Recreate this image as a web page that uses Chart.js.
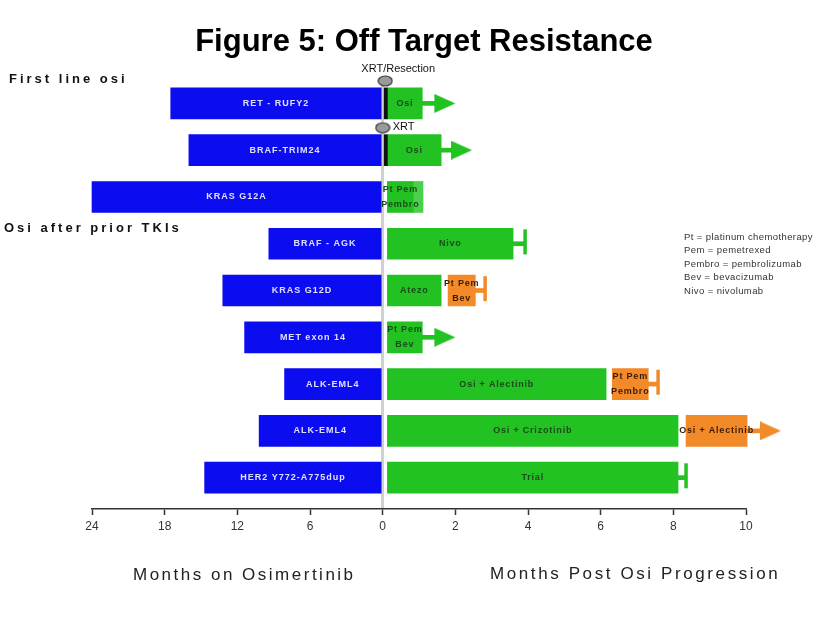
<!DOCTYPE html>
<html>
<head>
<meta charset="utf-8">
<script src="https://cdn.jsdelivr.net/npm/chart.js@4.4.1/dist/chart.umd.min.js"></script>
<style>
	html, body { margin: 0; padding: 0; background: #fff; }
</style>
</head>
<body>
<canvas id="swimmerChart" width="824" height="618"></canvas>
<script>
// Rows, top to bottom
const rowLabels = ['RET - RUFY2', 'BRAF-TRIM24', 'KRAS G12A', 'BRAF - AGK', 'KRAS G12D', 'MET exon 14', 'ALK-EML4', 'ALK-EML4', 'HER2 Y772-A775dup'];
// Months on osimertinib (left half)
const osiMonths = [17.5, 16, 24, 9.4, 13.2, 11.4, 8.1, 10.2, 14.7];
// Months post osi progression (right half)
const firstTxEnd = [1.09, 1.61, 0.84, 3.59, 1.61, 1.09, 6.15, 8.13, 8.13];
const firstTxLabels = ['Osi', 'Osi', 'Pt Pem\nPembro', 'Nivo', 'Atezo', 'Pt Pem\nBev', 'Osi + Alectinib', 'Osi + Crizotinib', 'Trial'];
const secondTxStart = [null, null, 0.84, null, 1.8, null, 6.32, 8.35, null];
const secondTxEnd = [null, null, 1.11, null, 2.55, null, 7.31, 10.03, null];
const secondTxLabels = ['', '', '', '', 'Pt Pem\nBev', '', 'Pt Pem\nPembro', 'Osi + Alectinib', ''];
const ongoingAt = [2.0, 2.46, null, null, null, 2.0, null, 10.96, null];
const stoppedAt = [null, null, null, 3.92, 2.82, null, 7.58, null, 8.35];
const xrtRows = [0, 1];
const xrtLabels = ['XRT/Resection', 'XRT'];
const leftTicks = [24, 18, 12, 6];
const rightTicks = [0, 2, 4, 6, 8, 10];
const notes = ['Pt = platinum chemotherapy', 'Pem = pemetrexed', 'Pembro = pembrolizumab', 'Bev = bevacizumab', 'Nivo = nivolumab'];

// left half is drawn at 3 months per axis unit
const LEFT_RATIO = 3;
const GAP = 0.13;

const BLUE = '#0c0cf0';
const GREEN = '#22c222';
const LIGHT_GREEN = '#4ccf4c';
const ORANGE = '#f28a2a';
const FONT = '"Liberation Sans", Arial, sans-serif';
const secondColors = ['', '', LIGHT_GREEN, '', ORANGE, '', ORANGE, ORANGE, ''];

function lastColor(i) {
	return secondTxEnd[i] != null ? secondColors[i] : GREEN;
}

function arrowHead(color) {
	// tip sits at the centre of the canvas
	const c = document.createElement('canvas');
	c.width = 44;
	c.height = 19;
	const g = c.getContext('2d');
	g.fillStyle = color;
	g.beginPath();
	g.moveTo(1, 0);
	g.lineTo(22, 9.5);
	g.lineTo(1, 19);
	g.closePath();
	g.fill();
	return c;
}

function pin() {
	const c = document.createElement('canvas');
	c.width = 16;
	c.height = 12;
	const g = c.getContext('2d');
	g.fillStyle = '#9a9a9a';
	g.strokeStyle = '#333';
	g.lineWidth = 1.2;
	g.beginPath();
	g.ellipse(8, 6, 7, 5, 0, 0, Math.PI * 2);
	g.fill();
	g.stroke();
	return c;
}

const rowIdx = rowLabels.map((l, i) => i);
const osiData = rowIdx.map(i => ({y: i, x: [-osiMonths[i] / LEFT_RATIO, 0]}));
const firstData = rowIdx.map(i => ({y: i, x: [GAP, firstTxEnd[i]]}));
const secondRows = rowIdx.filter(i => secondTxStart[i] != null);
const secondData = secondRows.map(i => ({y: i, x: [secondTxStart[i], secondTxEnd[i]]}));
const xrtData = xrtRows.map(i => ({y: i, x: [0, GAP]}));
const shaftRows = rowIdx.filter(i => ongoingAt[i] != null || stoppedAt[i] != null);
const shaftData = shaftRows.map(i => {
	const from = secondTxEnd[i] != null ? secondTxEnd[i] : firstTxEnd[i];
	const to = ongoingAt[i] != null ? ongoingAt[i] - 0.3 : stoppedAt[i];
	return {y: i, x: [from, to]};
});
const arrowRows = rowIdx.filter(i => ongoingAt[i] != null);
const capRows = rowIdx.filter(i => stoppedAt[i] != null);

const textPlugin = {
	id: 'texts',
	afterDraw(chart) {
		const ctx = chart.ctx;
		const put = (s, x, y, font, color, align, spacing) => {
			ctx.save();
			ctx.font = font;
			ctx.fillStyle = color;
			ctx.textAlign = align || 'center';
			ctx.textBaseline = 'middle';
			ctx.letterSpacing = (spacing || 0) + 'px';
			ctx.fillText(s, x, y);
			ctx.restore();
		};
		const barLabels = (dsIndex, labels, rows, font, color, spacing) => {
			chart.getDatasetMeta(dsIndex).data.forEach((bar, k) => {
				const s = labels[rows[k]];
				if (!s) return;
				const lines = s.split('\n');
				const cx = (bar.x + bar.base) / 2;
				lines.forEach((line, j) => {
					put(line, cx, bar.y + (j - (lines.length - 1) / 2) * 15, font, color, 'center', spacing);
				});
			});
		};
		put('Figure 5: Off Target Resistance', 424, 42, 'bold 31px ' + FONT, '#000');
		put('First line osi', 9, 79, 'bold 13px ' + FONT, '#111', 'left', 3);
		put('Osi after prior TKIs', 4, 228, 'bold 13px ' + FONT, '#111', 'left', 3);

		barLabels(0, rowLabels, rowIdx, 'bold 9px ' + FONT, '#dfe0ff', 1);
		barLabels(2, firstTxLabels, rowIdx, 'bold 9px ' + FONT, '#1a4a1a', 0.8);
		barLabels(3, secondTxLabels, secondRows, 'bold 9px ' + FONT, '#3a1c05', 0.8);

		const pins = chart.getDatasetMeta(7).data;
		put(xrtLabels[0], pins[0].x + 13, pins[0].y - 12, '11px ' + FONT, '#111');
		put(xrtLabels[1], pins[1].x + 10, pins[1].y - 1, '11px ' + FONT, '#111', 'left');

		notes.forEach((s, i) => put(s, 684, 237 + i * 13.6, '9.5px ' + FONT, '#333', 'left', 0.4));

		put('Months on Osimertinib', 133, 575, '17px ' + FONT, '#222', 'left', 2.5);
		put('Months Post Osi Progression', 490, 574, '17px ' + FONT, '#222', 'left', 2.6);
	}
};

const barBase = {type: 'bar', indexAxis: 'y', grouped: false, barThickness: 31, borderWidth: 0, clip: false};

new Chart(document.getElementById('swimmerChart'), {
	type: 'bar',
	data: {
		datasets: [
			Object.assign({}, barBase, {data: osiData, backgroundColor: BLUE, order: 4}),
			Object.assign({}, barBase, {data: xrtData, backgroundColor: '#111', order: 3}),
			Object.assign({}, barBase, {data: firstData, backgroundColor: GREEN, order: 4}),
			Object.assign({}, barBase, {data: secondData, backgroundColor: secondRows.map(i => secondColors[i]), order: 4}),
			Object.assign({}, barBase, {data: shaftData, barThickness: 4, backgroundColor: shaftRows.map(lastColor), order: 6}),
			{
				type: 'scatter',
				indexAxis: 'x',
				data: arrowRows.map(i => ({x: ongoingAt[i], y: i})),
				pointStyle: arrowRows.map(i => arrowHead(lastColor(i))),
				// radius only widens the in-area check so the last arrow past 10 is kept
				pointRadius: 40,
				clip: false,
				order: 1
			},
			{
				type: 'scatter',
				indexAxis: 'x',
				data: capRows.map(i => ({x: stoppedAt[i], y: i - 0.04})),
				pointStyle: 'line',
				pointRotation: 90,
				pointRadius: 12.5,
				pointBorderWidth: 3.5,
				pointBorderColor: capRows.map(lastColor),
				clip: false,
				order: 1
			},
			{
				type: 'scatter',
				indexAxis: 'x',
				data: xrtRows.map((r, k) => ({x: k === 0 ? 0.07 : 0, y: r - 0.48})),
				pointStyle: pin(),
				clip: false,
				order: 0
			}
		]
	},
	options: {
		responsive: false,
		animation: false,
		devicePixelRatio: 1,
		indexAxis: 'y',
		layout: {padding: {left: 92, right: 78, top: 80, bottom: 0}},
		plugins: {
			legend: {display: false},
			tooltip: {enabled: false}
		},
		scales: {
			x: {
				type: 'linear',
				offset: false,
				min: -leftTicks[0] / LEFT_RATIO,
				max: rightTicks[rightTicks.length - 1],
				afterBuildTicks: (scale) => {
					scale.ticks = leftTicks.map(v => ({value: -v / LEFT_RATIO})).concat(rightTicks.map(v => ({value: v})));
				},
				afterFit: (scale) => {
					scale.height = 109;
				},
				border: {display: true, color: '#333', width: 1.5},
				grid: {
					drawOnChartArea: true,
					color: (c) => (c.tick && c.tick.value === 0 ? '#d0d0d0' : 'rgba(0,0,0,0)'),
					lineWidth: (c) => (c.tick && c.tick.value === 0 ? 3 : 1),
					tickColor: '#333',
					tickLength: 6,
					tickWidth: 1.5
				},
				ticks: {
					padding: 4,
					color: '#333',
					font: {family: FONT, size: 12},
					callback: (v) => (v < 0 ? Math.round(-v * LEFT_RATIO) : v)
				}
			},
			y: {
				type: 'linear',
				display: false,
				offset: false,
				reverse: true,
				min: -0.5,
				max: 8.67
			}
		}
	},
	plugins: [textPlugin]
});
</script>
</body>
</html>
